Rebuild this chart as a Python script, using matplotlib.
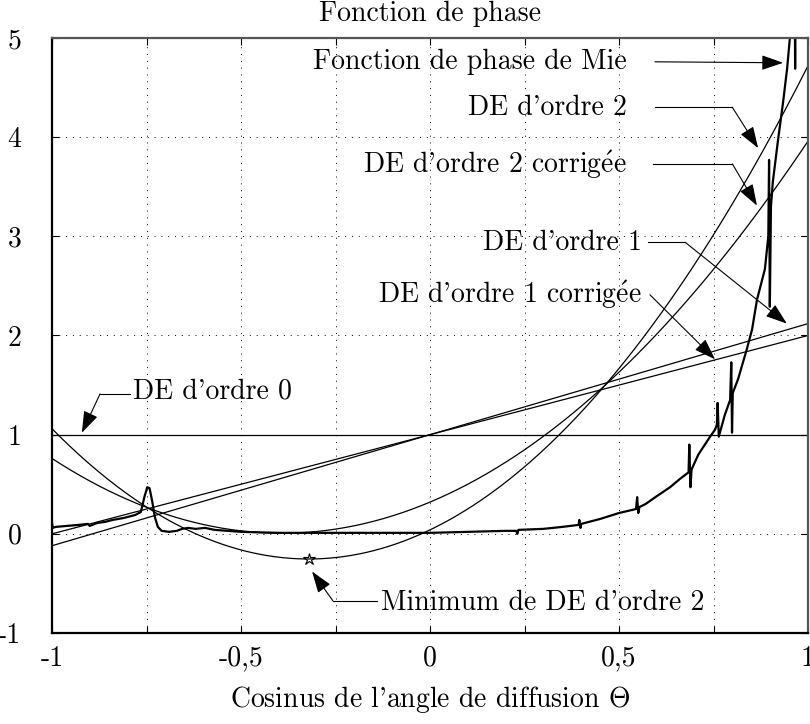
import numpy as np
import matplotlib
matplotlib.use('Agg')
import matplotlib.pyplot as plt

plt.rcParams['font.family'] = ['cmr10', 'DejaVu Serif']
plt.rcParams['mathtext.fontset'] = 'cm'
plt.rcParams['axes.unicode_minus'] = False
plt.rcParams['axes.formatter.use_mathtext'] = True

# Legendre-type expansions (polynomial coefficients, highest order first)
de0_coef = [1.0]
de1_coef = [1.12, 1.0]
de1c_coef = [1.0, 1.0]
de2_coef = [2.85, 1.83, 0.04]
de2c_coef = [2.04, 1.60, 0.32]

# Mie phase function
mie_x = [-1.0, -0.998, -0.99, -0.96, -0.93, -0.905, -0.9, -0.88, -0.86, -0.84,
         -0.81, -0.78, -0.765, -0.755, -0.748, -0.742, -0.735, -0.728, -0.72,
         -0.71, -0.69, -0.67, -0.656, -0.64, -0.62, -0.595, -0.57, -0.5, -0.4,
         -0.3, -0.2, -0.1, 0.0, 0.1, 0.2, 0.228, 0.231, 0.234, 0.3, 0.35, 0.393,
         0.395, 0.398, 0.40, 0.45, 0.5, 0.545, 0.548, 0.551, 0.554, 0.57, 0.6,
         0.635, 0.66, 0.684, 0.686, 0.689, 0.692, 0.71, 0.741, 0.754, 0.759,
         0.761, 0.764, 0.78, 0.794, 0.797, 0.799, 0.801, 0.815, 0.838, 0.852,
         0.865, 0.886, 0.895, 0.897, 0.899, 0.902, 0.907, 0.92, 0.934, 0.945,
         0.952, 0.96, 0.964, 0.966, 0.968, 0.98]
mie_y = [0.11, 0.06, 0.07, 0.08, 0.09, 0.10, 0.08, 0.11, 0.12, 0.14,
         0.16, 0.19, 0.22, 0.38, 0.47, 0.46, 0.33, 0.17, 0.07,
         0.03, 0.02, 0.03, 0.05, 0.06, 0.05, 0.06, 0.04, 0.02, 0.01,
         0.01, 0.01, 0.01, 0.01, 0.02, 0.03, 0.03, 0.0, 0.04, 0.05, 0.07, 0.09,
         0.14, 0.06, 0.10, 0.15, 0.21, 0.25, 0.37, 0.21, 0.27, 0.30, 0.38,
         0.47, 0.55, 0.62, 0.90, 0.47, 0.65, 0.80, 0.98, 1.05, 1.10,
         1.32, 0.98, 1.20, 1.35, 1.73, 1.02, 1.42, 1.56, 1.86, 2.06,
         2.36, 2.67, 3.0, 3.77, 2.29, 3.3, 3.55, 3.95, 4.35, 4.7,
         5.0, 5.6, 6.0, 4.69, 6.2, 8.0]

x_ticks = [-1, -0.5, 0, 0.5, 1]
x_tick_labels = ['-1', '-0,5', '0', '0,5', '1']
y_ticks = [-1, 0, 1, 2, 3, 4, 5]
y_tick_labels = ['-1', '0', '1', '2', '3', '4', '5']

fig = plt.figure(figsize=(8.1, 7.24), dpi=100)
ax = fig.add_axes([52 / 810, 1 - 633 / 724, 756 / 810, 595 / 724])

xs = np.linspace(-1, 1, 400)
for coef in [de0_coef, de1_coef, de1c_coef, de2_coef, de2c_coef]:
    ax.plot(xs, np.polyval(coef, xs), color='black', lw=0.9)
ax.plot(mie_x, mie_y, color='black', lw=1.6)

# minimum of the second order expansion
xmin = -de2_coef[1] / (2 * de2_coef[0])
ax.plot([xmin], [np.polyval(de2_coef, xmin)], marker='*', ms=9, mfc='none',
        mec='black', mew=0.8, ls='none')

ax.set_xlim(-1, 1)
ax.set_ylim(-1, 5)
ax.set_xticks(x_ticks)
ax.set_xticklabels(x_tick_labels)
ax.set_xticks(np.arange(-0.75, 1.0, 0.5), minor=True)
ax.set_yticks(y_ticks)
ax.set_yticklabels(y_tick_labels)
ax.tick_params(which='both', direction='in', top=True, right=True,
               length=5, width=0.8, labelsize=20)
ax.tick_params(axis='x', pad=9)
ax.tick_params(axis='y', pad=22)
ax.grid(True, which='both', color='black', lw=0.7, ls=(0, (1, 6)))
for side in ['left', 'bottom']:
    ax.spines[side].set_linewidth(1.6)
for side in ['top', 'right']:
    ax.spines[side].set_linewidth(1.6)
    ax.spines[side].set_color('#555555')

ax.set_title('Fonction de phase', fontsize=20, pad=12)
ax.set_xlabel(r"Cosinus de l'angle de diffusion $\Theta$", fontsize=20)
ax.xaxis.set_label_coords(0.5, -0.112)
ax.xaxis.label.set_va('center')

head = dict(arrowstyle='-|>,head_length=0.95,head_width=0.33', color='black',
            lw=0.8, mutation_scale=14, shrinkA=0, shrinkB=0)

# label, text anchor, alignment, path of the arrow (start, [elbow], tip)
notes = [
    ('Fonction de phase de Mie', (0.52, 4.76), 'right',
     [(0.595, 4.76), (0.934, 4.75)]),
    ("DE d'ordre 2", (0.52, 4.30), 'right',
     [(0.595, 4.30), (0.80, 4.30), (0.868, 3.89)]),
    ("DE d'ordre 2 corrig$\\acute{\\rm e}$e", (0.52, 3.72), 'right',
     [(0.59, 3.73), (0.80, 3.73), (0.865, 3.31)]),
    ("DE d'ordre 1", (0.56, 2.93), 'right',
     [(0.577, 2.94), (0.675, 2.94), (0.944, 2.12)]),
    ("DE d'ordre 1 corrig$\\acute{\\rm e}$e", (0.56, 2.41), 'right',
     [(0.582, 2.41), (0.754, 1.76)]),
    ("DE d'ordre 0", (-0.785, 1.44), 'left',
     [(-0.794, 1.41), (-0.873, 1.41), (-0.921, 1.02)]),
    ('Minimum de DE d\'ordre 2', (-0.13, -0.70), 'left',
     [(-0.14, -0.675), (-0.257, -0.675), (-0.312, -0.38)]),
]
for label, pos, ha, path in notes:
    ax.text(pos[0], pos[1], label, ha=ha, va='center', fontsize=20)
    if len(path) > 2:
        ax.plot([p[0] for p in path[:-1]], [p[1] for p in path[:-1]],
                color='black', lw=0.8)
    ax.annotate('', xy=path[-1], xytext=path[-2], arrowprops=head)

fig.savefig('out.png', dpi=100)
